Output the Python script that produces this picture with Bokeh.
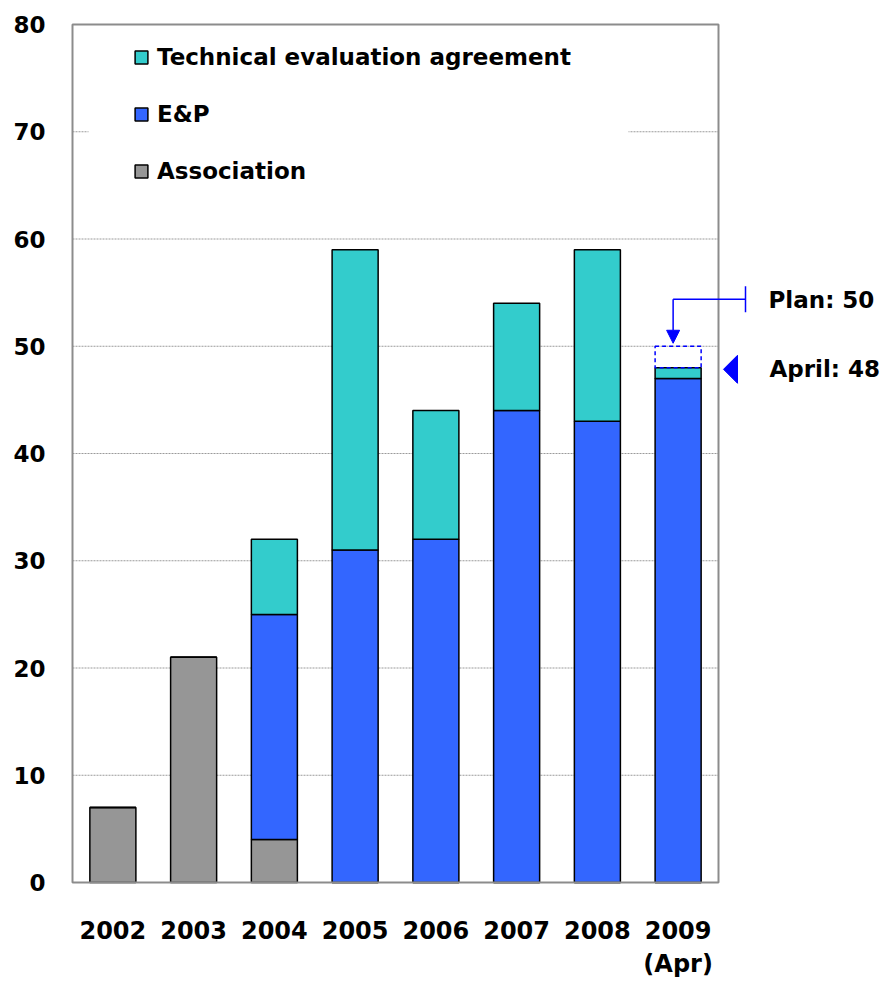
from bokeh.plotting import figure
from bokeh.models import (Range1d, FixedTicker, Legend, LegendItem, BoxAnnotation,
                          Arrow, NormalHead, ColumnDataSource)
from bokeh.core.properties import value
from bokeh.embed import file_html
from bokeh.resources import INLINE

# ---------------- data ----------------
years = ["2002", "2003", "2004", "2005", "2006", "2007", "2008", "2009\n(Apr)"]
association = [7, 21, 4, 0, 0, 0, 0, 0]
ep = [0, 0, 21, 31, 32, 44, 43, 47]
technical = [0, 0, 7, 28, 12, 10, 16, 1]
plan_2009 = 50
april_2009 = 48
y_ticks = [0, 10, 20, 30, 40, 50, 60, 70, 80]
series_keys = ["association", "ep", "technical"]
series_names = ["Association", "E&P", "Technical evaluation agreement"]
series_colors = ["#969696", "#3366FF", "#33CCCC"]

# ---------------- layout (figure pixel coords) ----------------
W, H = 882, 982
CL, CR, CT, CB = 72, 718, 24, 882      # chart box edges
PAD = 2
n = len(years)
ppx = (CR - CL) / n
ppy = (CB - CT) / (y_ticks[-1] - y_ticks[0])
FONT = "DejaVu Sans"
BLUE = "#0000FF"

p = figure(width=W, height=H, output_backend="svg", toolbar_location=None,
           x_range=Range1d(-0.5 - PAD / ppx, -0.5 + (W - CL) / ppx),
           y_range=Range1d(y_ticks[0] - PAD / ppy, y_ticks[-1] + PAD / ppy),
           min_border_left=CL - PAD, min_border_right=0,
           min_border_top=CT - PAD, min_border_bottom=H - CB - PAD)
p.outline_line_color = None
p.xgrid.visible = False
p.ygrid.visible = False
p.background_fill_color = "white"

# grid lines (only inside chart box)
for yv in y_ticks[1:-1]:
    p.segment(x0=-0.5, x1=n - 0.5, y0=yv, y1=yv, line_color="#9a9a9a",
              line_width=1, line_dash="2 1")

# stacked bars
src = ColumnDataSource(dict(x=list(range(n)), association=association, ep=ep,
                            technical=technical))
rs = p.vbar_stack(series_keys, x="x", width=0.57, source=src,
                  fill_color=series_colors, line_color="black", line_width=1.5)

# chart box border
p.quad(left=-0.5, right=n - 0.5, bottom=y_ticks[0], top=y_ticks[-1],
       fill_color=None, line_color="#8c8c8c", line_width=2)

# plan dashed box
p.quad(left=n - 1 - 0.285, right=n - 1 + 0.285, bottom=april_2009, top=plan_2009,
       fill_color=None, line_color=BLUE, line_width=1.5, line_dash="4 3")

# plan arrow bracket
ax = n - 1 - 5 / ppx
lvl = plan_2009 + 47 / ppy
tx = n - 0.5 + 27 / ppx
p.segment(x0=ax, x1=tx, y0=lvl, y1=lvl, line_color=BLUE, line_width=1.5)
p.segment(x0=tx, x1=tx, y0=lvl - 13 / ppy, y1=lvl + 13 / ppy, line_color=BLUE, line_width=1.5)
p.add_layout(Arrow(end=NormalHead(size=13, fill_color=BLUE, line_color=BLUE),
                   x_start=ax, y_start=lvl, x_end=ax, y_end=plan_2009 + 3 / ppy,
                   line_color=BLUE, line_width=1.5))

# april marker triangle (pointing left)
tip = n - 0.5 + 5 / ppx
base = n - 0.5 + 19 / ppx
hh = 14 / ppy
p.patch(x=[tip, base, base], y=[april_2009 - 0.15, april_2009 - 0.15 + hh, april_2009 - 0.15 - hh],
        fill_color=BLUE, line_color=BLUE)

# annotation texts
p.text(x=[n - 0.5 + 50 / ppx], y=[plan_2009 + 46 / ppy], text=[f"Plan: {plan_2009}"],
       text_font=value(FONT), text_font_style="bold", text_font_size="23px",
       text_baseline="middle", text_align="left", text_color="black")
p.text(x=[n - 0.5 + 51 / ppx], y=[april_2009 - 0.15], text=[f"April: {april_2009}"],
       text_font=value(FONT), text_font_style="bold", text_font_size="23px",
       text_baseline="middle", text_align="left", text_color="black")

# axes
p.yaxis.ticker = FixedTicker(ticks=y_ticks)
p.xaxis.ticker = FixedTicker(ticks=list(range(n)))
p.xaxis.major_label_overrides = {i: lab for i, lab in enumerate(years)}
for ax_ in (p.xaxis[0], p.yaxis[0]):
    ax_.axis_line_color = None
    ax_.major_tick_line_color = None
    ax_.minor_tick_line_color = None
    ax_.major_label_text_font = FONT
    ax_.major_label_text_font_style = "bold"
    ax_.major_label_text_color = "black"
p.yaxis.major_label_text_font_size = "23px"
p.xaxis.major_label_text_font_size = "24px"
p.yaxis.major_label_standoff = 19
p.xaxis.major_label_standoff = 26

# white box behind legend
p.add_layout(BoxAnnotation(left=-0.5 + 16 / ppx, right=-0.5 + 556 / ppx,
                           top=y_ticks[-1] - 6 / ppy, bottom=y_ticks[-1] - 176 / ppy,
                           fill_color="white", fill_alpha=1, line_color=None, level="annotation"))

# legend
P = 10
item_h = 28
spacing = 29
leg_h = 2 * P + 3 * item_h + 2 * spacing
sy = 17
legend = Legend(items=[LegendItem(label=series_names[i], renderers=[rs[i]]) for i in (2, 1, 0)],
                location=(136 - 72 + PAD - P + 7, (CB - CT + PAD) - sy - leg_h + 18),
                padding=P, spacing=spacing, label_height=item_h, glyph_height=16, glyph_width=16,
                label_standoff=8, border_line_color=None, background_fill_alpha=0,
                label_text_font=FONT, label_text_font_style="bold",
                label_text_font_size="23px", label_text_color="black")
p.add_layout(legend)

open("out.html", "w").write(file_html(p, INLINE))
